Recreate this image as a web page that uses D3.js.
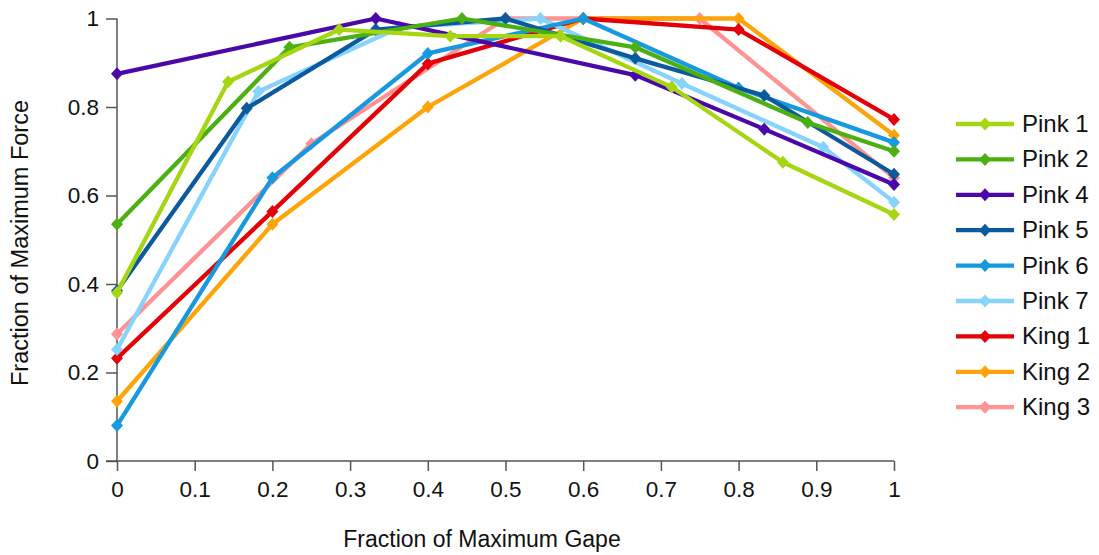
<!DOCTYPE html>
<html><head><meta charset="utf-8">
<script src="https://cdn.jsdelivr.net/npm/d3@7"></script>
<style>
body{margin:0;background:#fff;}
text{font-family:"Liberation Sans",Arial,sans-serif;fill:#111;}
</style></head>
<body>
<svg id="chart" width="1099" height="555"></svg>
<script>
const seriesNames = ["Pink 1","Pink 2","Pink 4","Pink 5","Pink 6","Pink 7","King 1","King 2","King 3"];
const seriesColors = ["#a6d611","#4caf12","#4a08a8","#0c5a9e","#1799e0","#86d3fd","#e30006","#ffa408","#ff9393"];
const pink1X = [0,0.143,0.286,0.429,0.571,0.714,0.857,1];
const pink1Y = [0.38,0.857,0.975,0.96,0.96,0.845,0.675,0.557];
const pink2X = [0,0.222,0.444,0.667,0.889,1];
const pink2Y = [0.535,0.935,1.0,0.935,0.765,0.70];
const pink4X = [0,0.333,0.667,0.833,1];
const pink4Y = [0.875,1.0,0.872,0.75,0.625];
const pink5X = [0,0.167,0.333,0.5,0.667,0.833,1];
const pink5Y = [0.385,0.797,0.975,1.0,0.91,0.826,0.648];
const pink6X = [0,0.2,0.4,0.6,0.8,1];
const pink6Y = [0.08,0.64,0.921,1.0,0.843,0.72];
const pink7X = [0,0.182,0.364,0.545,0.727,0.909,1];
const pink7Y = [0.252,0.835,0.98,1.0,0.853,0.709,0.585];
const king1X = [0,0.2,0.4,0.6,0.8,1];
const king1Y = [0.232,0.564,0.898,1.0,0.975,0.772];
const king2X = [0,0.2,0.4,0.6,0.8,1];
const king2Y = [0.135,0.535,0.8,1.0,1.0,0.736];
const king3X = [0,0.25,0.5,0.75,1];
const king3Y = [0.287,0.717,1.0,1.0,0.64];
const xTicks = [0,0.1,0.2,0.3,0.4,0.5,0.6,0.7,0.8,0.9,1];
const yTicks = [0,0.2,0.4,0.6,0.8,1];
const xTitle = "Fraction of Maximum Gape";
const yTitle = "Fraction of Maximum Force";

const allX = [pink1X,pink2X,pink4X,pink5X,pink6X,pink7X,king1X,king2X,king3X];
const allY = [pink1Y,pink2Y,pink4Y,pink5Y,pink6Y,pink7Y,king1Y,king2Y,king3Y];
const series = seriesNames.map((n,i)=>({name:n,color:seriesColors[i],pts:allX[i].map((x,j)=>[x,allY[i][j]])}));

const svg = d3.select("#chart");
const x = d3.scaleLinear().domain([0,1]).range([117,894]);
const y = d3.scaleLinear().domain([0,1]).range([461,18.5]);
const axisColor = "#555";

// axes
const xAxis = svg.append("g").attr("transform","translate(0,461)")
  .call(d3.axisBottom(x).tickValues(xTicks).tickFormat(d3.format("")).tickSize(10).tickPadding(6));
const yAxis = svg.append("g").attr("transform","translate(117,0)")
  .call(d3.axisLeft(y).tickValues(yTicks).tickFormat(d3.format("")).tickSize(11).tickPadding(7));
[xAxis,yAxis].forEach(a=>{
  a.select(".domain").attr("stroke",axisColor).attr("stroke-width",1.5);
  a.selectAll(".tick line").attr("stroke",axisColor).attr("stroke-width",1.5);
  a.selectAll(".tick text").style("font-size","22.5px").style("font-family","'Liberation Sans',Arial,sans-serif").attr("fill","#111");
});
xAxis.select(".domain").attr("d","M106,0H894");
yAxis.select(".domain").attr("d","M0,18.5V461");
xAxis.selectAll(".tick text").attr("dy","0.88em");

svg.append("text").attr("x",482).attr("y",547).attr("text-anchor","middle").style("font-size","23px").text(xTitle);
svg.append("text").attr("transform","translate(28,243) rotate(-90)").attr("text-anchor","middle").style("font-size","23.5px").text(yTitle);

const line = d3.line().x(d=>x(d[0])).y(d=>y(d[1]));
const diamond = "M0,-6.5L6,0L0,6.5L-6,0Z";
const plot = svg.append("g");
series.slice().reverse().forEach(s=>{
  const g = plot.append("g");
  g.append("path").attr("d",line(s.pts)).attr("fill","none").attr("stroke",s.color).attr("stroke-width",4.3).attr("stroke-linejoin","round");
  g.selectAll("path.m").data(s.pts).enter().append("path").attr("class","m")
    .attr("d",diamond).attr("transform",d=>`translate(${x(d[0])},${y(d[1])})`).attr("fill",s.color);
});

// legend
const leg = svg.append("g");
series.forEach((s,i)=>{
  const cy = 124 + i*35.4;
  const g = leg.append("g").attr("transform",`translate(0,${cy})`);
  g.append("line").attr("x1",956).attr("x2",1014).attr("y1",0).attr("y2",0).attr("stroke",s.color).attr("stroke-width",4.3);
  g.append("path").attr("d",diamond).attr("transform","translate(985,0)").attr("fill",s.color);
  g.append("text").attr("x",1022).attr("y",8).style("font-size","24px").text(s.name);
});
</script>
</body></html>
